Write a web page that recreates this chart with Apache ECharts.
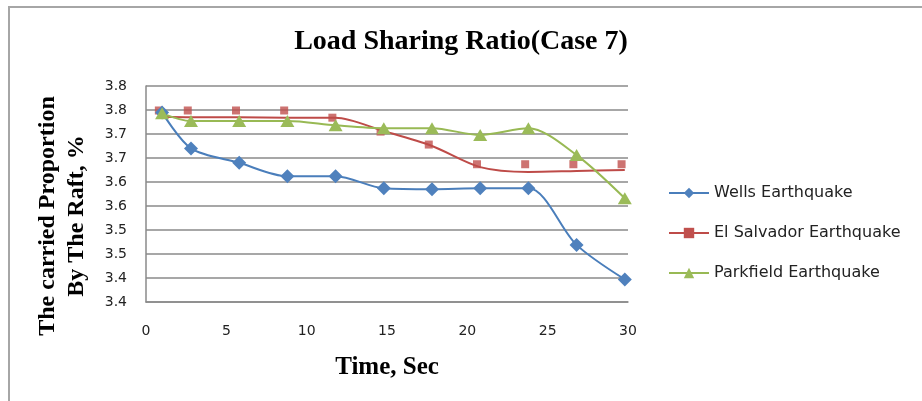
<!DOCTYPE html>
<html>
<head>
<meta charset="utf-8">
<script src="https://cdn.jsdelivr.net/npm/echarts@6/dist/echarts.min.js"></script>
<style>
  html, body { margin: 0; padding: 0; background: #fff; }
  #chart { width: 922px; height: 401px; }
</style>
</head>
<body>
<div id="chart"></div>
<script>
// time points (sec)
const timeSec = [1, 2.8, 5.8, 8.8, 11.8, 14.8, 17.8, 20.8, 23.8, 26.8, 29.8]
const wells = [3.745, 3.670, 3.640, 3.612, 3.612, 3.587, 3.585, 3.587, 3.587, 3.469, 3.397]
// red markers sit a little left of the others
const elSalvadorTime = [0.8, 2.6, 5.6, 8.6, 11.6, 14.6, 17.6, 20.6, 23.6, 26.6, 29.6]
const elSalvador = [3.749, 3.749, 3.749, 3.749, 3.734, 3.705, 3.678, 3.637, 3.637, 3.637, 3.637]
// red smooth curve (does not pass through the markers)
const elSalvadorCurve = [3.736, 3.735, 3.735, 3.734, 3.734, 3.706, 3.675, 3.631, 3.621, 3.623, 3.625]
const parkfield = [3.743, 3.727, 3.727, 3.727, 3.718, 3.712, 3.712, 3.698, 3.712, 3.656, 3.566]
const yTickLabels = ['3.4', '3.4', '3.5', '3.5', '3.6', '3.6', '3.7', '3.7', '3.8', '3.8']

const pairs = (xs, ys) => xs.map((x, i) => [x, ys[i]])

const myChart = echarts.init(document.getElementById('chart'))
const gridGray = '#8a8a8a'
const options = {
  animation: false,
  title: {
    text: 'Load Sharing Ratio(Case 7)',
    left: 'center',
    top: 23,
    textStyle: {
      fontFamily: 'Liberation Serif',
      fontWeight: 'bold',
      fontSize: 28,
      color: '#000'
    }
  },
  legend: {
    orient: 'vertical',
    left: 663,
    top: 180,
    itemWidth: 40,
    itemHeight: 13,
    itemGap: 24,
    textStyle: {
      fontFamily: 'DejaVu Sans',
      fontSize: 16,
      color: '#222'
    },
    data: ['Wells Earthquake', 'El Salvador Earthquake', 'Parkfield Earthquake']
  },
  grid: {
    left: 146,
    right: 294,
    top: 86,
    bottom: 99
  },
  xAxis: {
    type: 'value',
    min: 0,
    max: 30,
    interval: 5,
    name: 'Time, Sec',
    nameLocation: 'middle',
    nameGap: 53,
    nameTextStyle: {
      fontFamily: 'Liberation Serif',
      fontWeight: 'bold',
      fontSize: 25,
      color: '#000'
    },
    axisLine: { lineStyle: { color: gridGray, width: 1.5 } },
    axisTick: { show: false },
    splitLine: { show: false },
    axisLabel: {
      margin: 22,
      fontFamily: 'DejaVu Sans',
      fontSize: 14,
      color: '#222'
    }
  },
  yAxis: {
    type: 'value',
    min: 3.35,
    max: 3.8,
    interval: 0.05,
    axisLine: { show: true, lineStyle: { color: gridGray, width: 1.5 } },
    axisTick: { show: false },
    splitLine: { lineStyle: { color: gridGray, width: 1.5 } },
    axisLabel: {
      margin: 19,
      fontFamily: 'DejaVu Sans',
      fontSize: 14,
      color: '#222',
      formatter: (v, i) => yTickLabels[i]
    }
  },
  graphic: [
    {
      type: 'rect',
      shape: { x: 9, y: 7, width: 1000, height: 1000 },
      style: { fill: 'none', stroke: '#a6a6a6', lineWidth: 2 },
      silent: true
    },
    {
      type: 'text',
      x: 62,
      y: 216,
      rotation: Math.PI / 2,
      style: {
        text: 'The carried Proportion\nBy The Raft, %',
        align: 'center',
        verticalAlign: 'middle',
        lineHeight: 29,
        font: 'bold 24px "Liberation Serif"',
        fill: '#000'
      }
    }
  ],
  series: [
    {
      name: 'Wells Earthquake',
      type: 'line',
      smooth: 0.3,
      data: pairs(timeSec, wells),
      symbol: 'diamond',
      symbolSize: 14,
      lineStyle: { color: '#4A7EBB', width: 2 },
      itemStyle: { color: '#4F81BD' }
    },
    {
      name: 'El Salvador Earthquake',
      type: 'line',
      smooth: 0.3,
      data: pairs(timeSec, elSalvadorCurve),
      symbol: 'rect',
      showSymbol: false,
      lineStyle: { color: '#BE4B48', width: 2 },
      itemStyle: { color: '#C0504D' }
    },
    {
      name: 'El Salvador Earthquake',
      type: 'scatter',
      data: pairs(elSalvadorTime, elSalvador),
      symbol: 'rect',
      symbolSize: 8,
      itemStyle: { color: '#C0504D' }
    },
    {
      name: 'Parkfield Earthquake',
      type: 'line',
      smooth: 0.3,
      data: pairs(timeSec, parkfield),
      symbol: 'triangle',
      symbolSize: [14, 12],
      lineStyle: { color: '#98B954', width: 2 },
      itemStyle: { color: '#9BBB59' }
    }
  ]
}
myChart.setOption(options)
window.onresize = () => {
  myChart.resize()
}
</script>
</body>
</html>
